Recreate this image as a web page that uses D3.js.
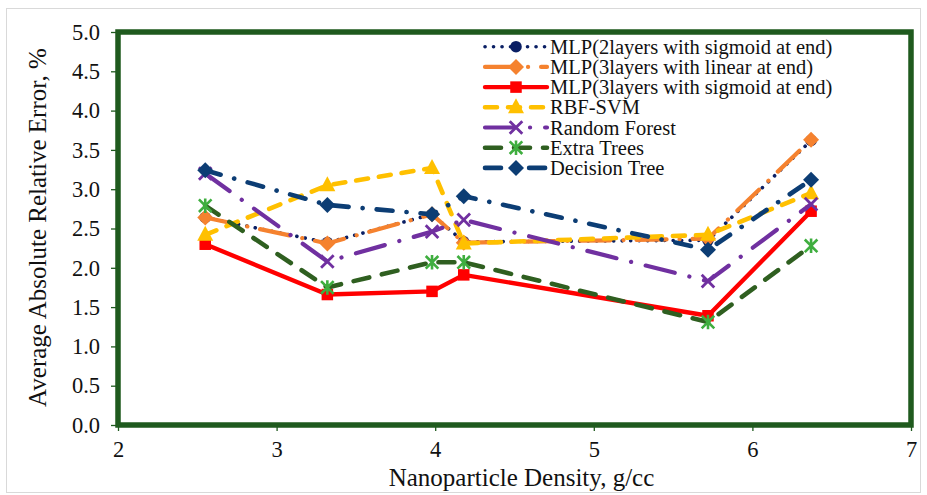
<!DOCTYPE html>
<html>
<head>
<meta charset="utf-8">
<script src="https://cdn.jsdelivr.net/npm/d3@7"></script>
<style>
  html, body { margin: 0; padding: 0; background: #fff; }
  svg { display: block; font-family: "Liberation Serif", "Times New Roman", serif; }
</style>
</head>
<body>
<svg id="chart" width="927" height="495"></svg>
<script>
// Nanoparticle density (g/cc) at which each model was evaluated
const density = [2.55, 3.32, 3.98, 4.18, 5.72, 6.37];

// Average absolute relative error (%) per model
const mlp2Sigmoid = [2.64, 2.32, 2.68, 2.33, 2.35, 3.62];
const mlp3Linear  = [2.64, 2.31, 2.68, 2.32, 2.37, 3.63];
const mlp3Sigmoid = [2.30, 1.66, 1.70, 1.91, 1.39, 2.72];
const rbfSvm      = [2.42, 3.05, 3.27, 2.31, 2.42, 2.95];
const randomForest = [3.20, 2.08, 2.46, 2.61, 1.83, 2.81];
const extraTrees  = [2.79, 1.75, 2.07, 2.07, 1.31, 2.28];
const decisionTree = [3.24, 2.80, 2.68, 2.91, 2.23, 3.12];

const seriesNames = [
  "MLP(2layers with sigmoid at end)",
  "MLP(3layers with linear at end)",
  "MLP(3layers with sigmoid at end)",
  "RBF-SVM",
  "Random Forest",
  "Extra Trees",
  "Decision Tree"
];
const seriesValues = [mlp2Sigmoid, mlp3Linear, mlp3Sigmoid, rbfSvm, randomForest, extraTrees, decisionTree];

const xTicks = [2, 3, 4, 5, 6, 7];
const yTicks = [0, 0.5, 1, 1.5, 2, 2.5, 3, 3.5, 4, 4.5, 5];

// Visual style of each series: line colour, dash pattern, marker
const styles = [
  { color: "#0a1f64", width: 3.6, dash: "0.1 8.4", cap: "round", marker: "circle", fill: "#0a1f64" },
  { color: "#f5822f", width: 4.2, dash: "30 13 0.1 13", cap: "round", marker: "diamond", fill: "#f5822f" },
  { color: "#ff0000", width: 4.4, dash: null, cap: "round", marker: "square", fill: "#ff0000" },
  { color: "#ffc000", width: 4.6, dash: "12 11", cap: "round", marker: "triangle", fill: "#ffc000" },
  { color: "#7030a0", width: 4.2, dash: "30 15 0.1 15", cap: "round", marker: "cross", fill: "#7030a0" },
  { color: "#2f5f20", width: 4.6, dash: "16 13", cap: "round", marker: "asterisk", fill: "#3fae3f" },
  { color: "#0c3d74", width: 4.6, dash: "16 14 0.1 14", cap: "round", marker: "diamond", fill: "#0c3d74" }
];

const svg = d3.select("#chart");
const frameColor = "#1f5a1e";

// light outer border of the chart area
svg.append("rect")
  .attr("x", 6.5).attr("y", 8.5).attr("width", 914).attr("height", 484)
  .attr("fill", "none").attr("stroke", "#d9d9d9").attr("stroke-width", 1);

const plot = { left: 118, right: 911, top: 32, bottom: 425 };

const x = d3.scaleLinear().domain([2, 7]).range([plot.left, plot.right]);
const y = d3.scaleLinear().domain([0, 5]).range([plot.bottom, plot.top]);

// axes
const xAxis = d3.axisBottom(x).tickValues(xTicks).tickFormat(d3.format("d")).tickSize(6).tickPadding(10);
const yAxis = d3.axisLeft(y).tickValues(yTicks).tickFormat(d3.format(".1f")).tickSize(7).tickPadding(11);

const gx = svg.append("g").attr("transform", `translate(0,${plot.bottom})`).call(xAxis);
const gy = svg.append("g").attr("transform", `translate(${plot.left},0)`).call(yAxis);
[gx, gy].forEach(g => {
  g.select(".domain").remove();
  g.selectAll(".tick line").attr("stroke", frameColor).attr("stroke-width", 1.3);
  g.selectAll(".tick text").attr("fill", "#111").style("font-size", "22.5px")
    .style("font-family", "'Liberation Serif', 'Times New Roman', serif");
});

// axis titles
svg.append("text")
  .attr("x", (plot.left + plot.right) / 2 + 7).attr("y", 486)
  .attr("text-anchor", "middle").attr("fill", "#111").style("font-size", "25px")
  .text("Nanoparticle Density, g/cc");
svg.append("text")
  .attr("transform", `translate(46,${(plot.top + plot.bottom) / 2 - 1}) rotate(-90)`)
  .attr("text-anchor", "middle").attr("fill", "#111").style("font-size", "25px")
  .text("Average Absolute Relative Error, %");

// marker drawing
function drawMarker(g, type, cx, cy, st) {
  if (type === "circle") {
    g.append("circle").attr("cx", cx).attr("cy", cy).attr("r", 5.8).attr("fill", st.fill);
  } else if (type === "diamond") {
    const r = 8;
    g.append("path").attr("d", `M${cx},${cy - r}L${cx + r},${cy}L${cx},${cy + r}L${cx - r},${cy}Z`).attr("fill", st.fill);
  } else if (type === "square") {
    const s = 11.5;
    g.append("rect").attr("x", cx - s / 2).attr("y", cy - s / 2).attr("width", s).attr("height", s).attr("fill", st.fill);
  } else if (type === "triangle") {
    const h = 15, w = 16;
    g.append("path").attr("d", `M${cx},${cy - h * 0.6}L${cx + w / 2},${cy + h * 0.4}L${cx - w / 2},${cy + h * 0.4}Z`).attr("fill", st.fill);
  } else if (type === "cross") {
    const r = 6.3;
    g.append("path").attr("d", `M${cx - r},${cy - r}L${cx + r},${cy + r}M${cx - r},${cy + r}L${cx + r},${cy - r}`)
      .attr("stroke", st.fill).attr("stroke-width", 2.8).attr("fill", "none");
  } else if (type === "asterisk") {
    const r = 6.3;
    g.append("path").attr("d", `M${cx - r},${cy - r}L${cx + r},${cy + r}M${cx - r},${cy + r}L${cx + r},${cy - r}M${cx},${cy - r - 1}L${cx},${cy + r + 1}`)
      .attr("stroke", st.fill).attr("stroke-width", 2.6).attr("fill", "none");
  }
}

const line = d3.line().x(d => x(d[0])).y(d => y(d[1]));

// series, drawn in legend order so later ones sit on top
seriesValues.forEach((vals, i) => {
  const st = styles[i];
  const pts = density.map((d, j) => [d, vals[j]]);
  const g = svg.append("g");
  g.append("path").datum(pts).attr("d", line)
    .attr("fill", "none").attr("stroke", st.color).attr("stroke-width", st.width)
    .attr("stroke-linecap", st.cap).attr("stroke-linejoin", "round")
    .attr("stroke-dasharray", st.dash);
  pts.forEach(p => drawMarker(g, st.marker, x(p[0]), y(p[1]), st));
});

// plot frame
svg.append("rect")
  .attr("x", plot.left).attr("y", plot.top)
  .attr("width", plot.right - plot.left).attr("height", plot.bottom - plot.top)
  .attr("fill", "none").attr("stroke", frameColor).attr("stroke-width", 5.5);

// legend
const legend = svg.append("g");
const lgX0 = 485, lgX1 = 547, lgY0 = 46.7, lgDy = 20.2;
seriesNames.forEach((name, i) => {
  const st = styles[i];
  const cy = lgY0 + i * lgDy;
  const g = legend.append("g");
  g.append("line").attr("x1", lgX0).attr("x2", lgX1).attr("y1", cy).attr("y2", cy)
    .attr("stroke", st.color).attr("stroke-width", st.width)
    .attr("stroke-linecap", st.cap).attr("stroke-dasharray", st.dash);
  drawMarker(g, st.marker, (lgX0 + lgX1) / 2, cy, st);
  g.append("text").attr("x", 550).attr("y", cy + 7).attr("fill", "#111")
    .style("font-size", "20.5px").text(name);
});
</script>
</body>
</html>
